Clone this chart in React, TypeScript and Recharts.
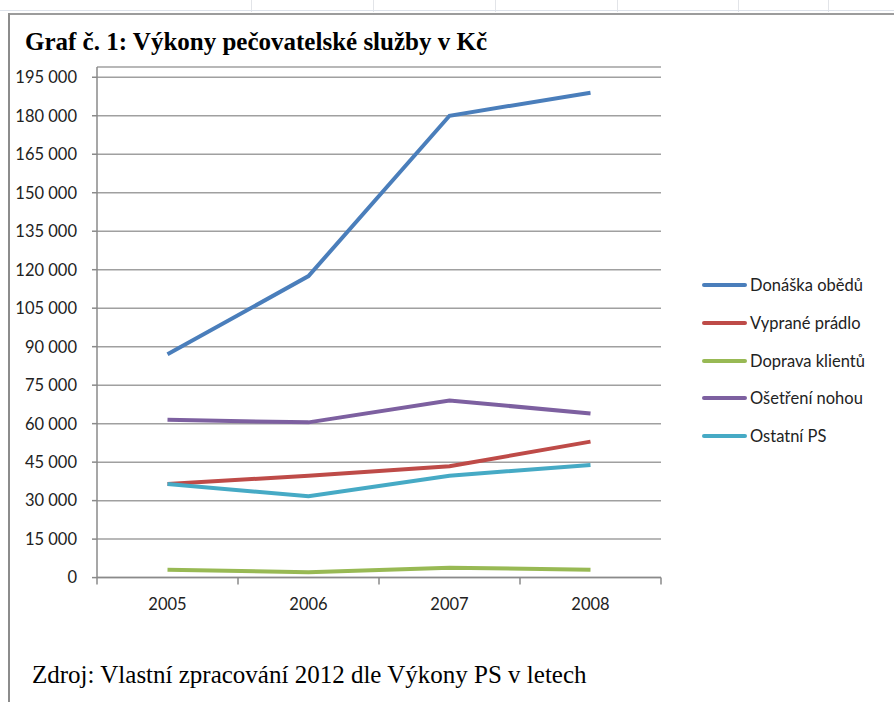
import React from 'react'
import { LineChart, Line, XAxis, YAxis, CartesianGrid } from 'recharts'

const years = ['2005', '2006', '2007', '2008']
const donaskaObedu = [87000, 117500, 180000, 189000]
const vypranePradlo = [36500, 39700, 43400, 53000]
const dopravaKlientu = [3100, 2100, 3800, 3100]
const osetreniNohou = [61500, 60500, 69000, 64000]
const ostatniPS = [36500, 31700, 39700, 43900]
const yTicks = [0, 15000, 30000, 45000, 60000, 75000, 90000, 105000, 120000, 135000, 150000, 165000, 180000, 195000]

const series = [
  { key: 'donaska', name: 'Donáška obědů', color: '#4A7EBB', values: donaskaObedu },
  { key: 'pradlo', name: 'Vyprané prádlo', color: '#BE4B48', values: vypranePradlo },
  { key: 'doprava', name: 'Doprava klientů', color: '#98B954', values: dopravaKlientu },
  { key: 'nohy', name: 'Ošetření nohou', color: '#7D60A0', values: osetreniNohou },
  { key: 'ostatni', name: 'Ostatní PS', color: '#46AAC5', values: ostatniPS },
]

// x sits in the middle of each year band, so the axis ticks fall between years (Excel style)
const data = years.map((year, i) => {
  const row: Record<string, number | string> = { x: i + 0.5, year }
  series.forEach((s) => { row[s.key] = s.values[i] })
  return row
})

const xTicks = [0, 0.5, 1, 1.5, 2, 2.5, 3, 3.5, 4]
const font = 'Lato, "Open Sans", sans-serif'
const axisColor = '#8a8a8a'

const fmt = (v: number) => String(v).replace(/\B(?=(\d{3})+(?!\d))/g, ' ')

function XTick({ x, y, payload }: any) {
  const v = payload.value as number
  if (Number.isInteger(v)) {
    return <line x1={x} x2={x} y1={y} y2={y + 7} stroke={axisColor} strokeWidth={1.5} />
  }
  return (
    <text x={x} y={y + 28} textAnchor="middle" dominantBaseline="middle" fontFamily={font} fontSize={16.5} fill="#222">
      {years[Math.floor(v)]}
    </text>
  )
}

const colLines = [251, 373, 495, 617, 738, 828]

export default function App() {
  return (
    <div style={{ position: 'absolute', left: 0, top: 0, width: 894, height: 702, overflow: 'hidden', background: '#fff' }}>
      {/* spreadsheet edge above the chart */}
      {colLines.map((cx) => (
        <div key={cx} style={{ position: 'absolute', left: cx, top: 0, width: 1, height: 12, background: '#e2e4e8' }} />
      ))}
      <div style={{ position: 'absolute', left: 0, top: 10, width: 894, height: 1, background: '#dde2ea' }} />
      <div style={{ position: 'absolute', left: 8, top: 13, width: 886, height: 2, background: '#9c9c9c' }} />
      <div style={{ position: 'absolute', left: 8, top: 13, width: 2, height: 689, background: '#8c8c8c' }} />

      <div style={{
        position: 'absolute', left: 25, top: 28, fontFamily: '"Liberation Serif", "Times New Roman", serif',
        fontWeight: 'bold', fontSize: 25, color: '#000', whiteSpace: 'nowrap',
      }}>
        Graf č. 1: Výkony pečovatelské služby v Kč
      </div>

      <div style={{ position: 'absolute', left: 0, top: 0 }}>
        <LineChart width={894} height={702} data={data} margin={{ top: 67, right: 233, bottom: 94.4, left: 0 }}>
          <CartesianGrid vertical={false} stroke="#a0a0a0" strokeWidth={1.5} />
          <XAxis
            type="number"
            dataKey="x"
            domain={[0, 4]}
            ticks={xTicks}
            interval={0}
            height={30}
            tick={<XTick />}
            tickLine={false}
            tickSize={0}
            tickMargin={0}
            axisLine={{ stroke: axisColor, strokeWidth: 1.5 }}
          />
          <YAxis
            domain={[0, 199000]}
            ticks={yTicks}
            interval={0}
            width={97}
            tickSize={5}
            tickMargin={15}
            tickFormatter={fmt}
            tick={{ fontFamily: font, fontSize: 16.5, fill: '#222' }}
            tickLine={{ stroke: axisColor, strokeWidth: 1.5 }}
            axisLine={{ stroke: axisColor, strokeWidth: 1.5 }}
          />
          {series.map((s) => (
            <Line
              key={s.key}
              type="linear"
              dataKey={s.key}
              name={s.name}
              stroke={s.color}
              strokeWidth={4}
              dot={false}
              activeDot={false}
              isAnimationActive={false}
            />
          ))}
        </LineChart>
      </div>

      {/* legend */}
      {series.map((s, i) => (
        <div key={s.key} style={{ position: 'absolute', left: 702, top: 285 + i * 37.8 - 11, height: 22, display: 'flex', alignItems: 'center' }}>
          <div style={{ width: 45, height: 4, borderRadius: 2, background: s.color, marginRight: 3 }} />
          <span style={{ fontFamily: font, fontSize: 16.5, color: '#222', whiteSpace: 'nowrap' }}>{s.name}</span>
        </div>
      ))}

      <div style={{
        position: 'absolute', left: 32, top: 661, fontFamily: '"Liberation Serif", "Times New Roman", serif',
        fontSize: 25, color: '#000', whiteSpace: 'nowrap',
      }}>
        Zdroj: Vlastní zpracování 2012 dle Výkony PS v letech
      </div>
    </div>
  )
}
